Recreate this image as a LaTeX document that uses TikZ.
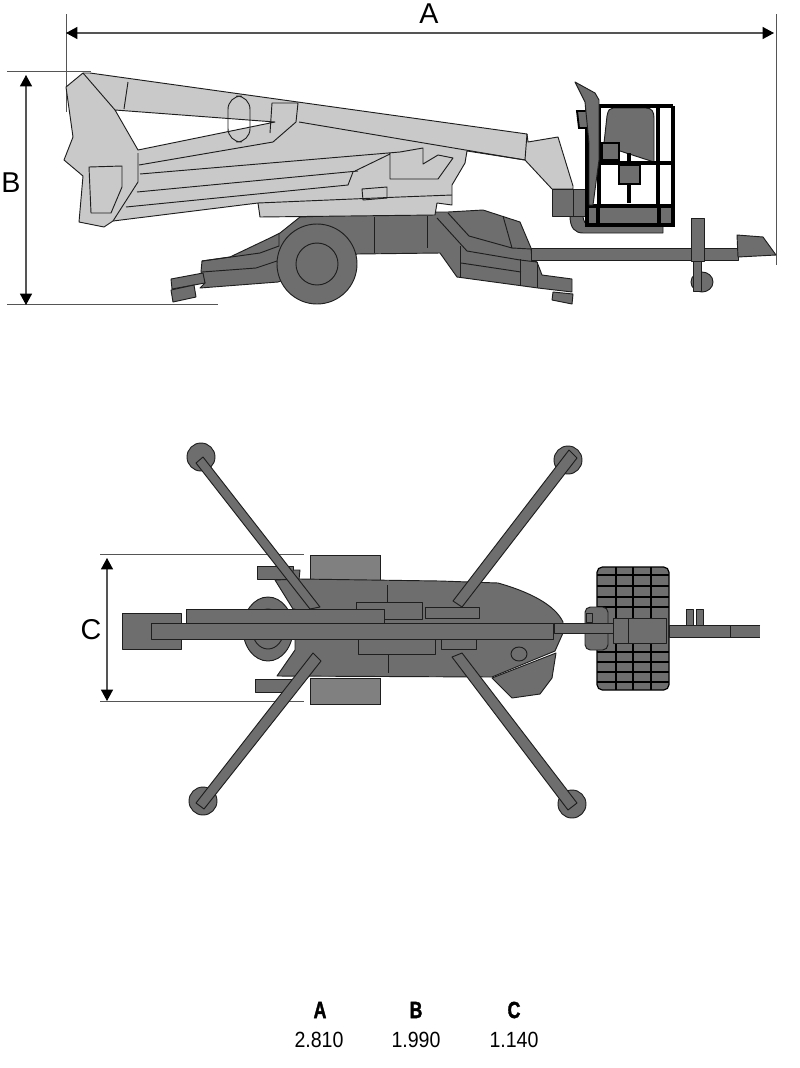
\documentclass[tikz,border=0pt]{standalone}
\usepackage{fontspec}
\setmainfont{Liberation Sans}
\newfontfamily\headfont[BoldFeatures={FakeBold=2}]{Liberation Sans}
\usetikzlibrary{arrows.meta}
\definecolor{boomgray}{HTML}{C9C9C9}
\definecolor{basegray}{HTML}{6E6E6E}
\definecolor{boxgray}{HTML}{808080}
\definecolor{dimgray}{HTML}{555555}
\definecolor{edgegray}{HTML}{1E1E1E}
\tikzset{
  boompart/.style={fill=boomgray,draw=edgegray,line width=.7pt,line join=round},
  basepart/.style={fill=basegray,draw=edgegray,line width=.7pt,line join=round},
  boxpart/.style={fill=boxgray,draw=edgegray,line width=.6pt},
  seam/.style={draw=edgegray,line width=.7pt,line join=round},
  rail/.style={draw=black,line width=2.5pt},
  tyreline/.style={draw=black,line width=1.3pt},
  extline/.style={draw=dimgray,line width=.7pt},
  dimline/.style={draw=dimgray,line width=.8pt,{Triangle[width=9pt,length=8.5pt,black]}-{Triangle[width=9pt,length=8.5pt,black]}},
  dimtext/.style={font=\fontsize{21.5}{24}\selectfont,inner sep=0pt},
  headtext/.style={font=\headfont\fontsize{17.5}{20}\selectfont\bfseries,inner sep=0pt,xscale=.76,transform shape},
  valtext/.style={font=\fontsize{16.5}{18}\selectfont,inner sep=0pt,xscale=.89,transform shape}
}
\begin{document}
\begin{tikzpicture}[x=0.75pt,y=-0.75pt]
  \useasboundingbox (0,0) rectangle (800,1068);

  \coordinate (extAl) at (66,14);
  \coordinate (extAle) at (66,112);
  \coordinate (extAr) at (776,14);
  \coordinate (extAre) at (776,265);
  \coordinate (dimAl) at (66,33);
  \coordinate (dimAr) at (774,33);
  \coordinate (extBt) at (7,71);
  \coordinate (extBte) at (91,71);
  \coordinate (extBb) at (7,304);
  \coordinate (extBbe) at (218,304);
  \coordinate (dimBt) at (26,75);
  \coordinate (dimBb) at (26,305);
  \coordinate (extCt) at (100,554);
  \coordinate (extCte) at (304,554);
  \coordinate (extCb) at (100,701);
  \coordinate (extCbe) at (304,701);
  \coordinate (dimCt) at (107,558);
  \coordinate (dimCb) at (107,701);
  \draw[extline] (extAl) -- (extAle);
  \draw[extline] (extAr) -- (extAre);
  \draw[extline] (extBt) -- (extBte);
  \draw[extline] (extBb) -- (extBbe);
  \draw[extline] (extCt) -- (extCte);
  \draw[extline] (extCb) -- (extCbe);
  \draw[dimline] (dimAl) -- (dimAr);
  \draw[dimline] (dimBt) -- (dimBb);
  \draw[dimline] (dimCt) -- (dimCb);
  \node[dimtext] (labA) at (429,14) {A};
  \node[dimtext] (labB) at (11,183) {B};
  \node[dimtext] (labC) at (91,630) {C};

  \draw[basepart] (300,217) -- (437,212) -- (448,212) -- (483,210) -- (520,222) -- (531,248) -- (532,260) -- (537,262) -- (542,275) -- (572,279) -- (572,292) -- (538,288) -- (457,277) -- (440,253) -- (357,254) -- (278,282) -- (200,288) -- (205,283) -- (201,272) -- (202,261) -- (230,257) -- (272,237) -- (280,233) -- cycle;
  \draw[seam] (202,261) -- (260,253) -- (279,246) -- (279,233);
  \draw[seam] (202,272) -- (256,268) -- (277,261);
  \draw[seam] (374,217) -- (374,253);
  \draw[seam] (427,216) -- (427,248);
  \draw[seam] (448,213) -- (469,236) -- (512,248) -- (503,216);
  \draw[seam] (512,248) -- (531,249);
  \draw[seam] (437,218) -- (467,251) -- (520,260) -- (537,262);
  \draw[seam] (460,246) -- (460,277);
  \draw[seam] (461,263) -- (521,272);
  \draw[seam] (520,259) -- (520,285);
  \draw[seam] (537,262) -- (537,288);
  \draw[basepart] (171,279) -- (203,273) -- (205,283) -- (172,289) -- cycle;
  \draw[basepart] (171,290) -- (194,285) -- (196,297) -- (173,302) -- cycle;
  \draw[basepart] (553,292) -- (573,294) -- (572,304) -- (552,300) -- cycle;
  \draw[basepart] (317,264) circle (40);
  \draw[seam] (317,264) circle (21);

  \draw[basepart] (702,282) ellipse (11 and 10);
  \draw[basepart] (693,261) rectangle (701,291);
  \draw[basepart] (531,248) rectangle (738,260);
  \draw[basepart] (691,218) rectangle (704,261);
  \draw[basepart] (737,235) -- (763,237) -- (776,255) -- (738,257) -- cycle;

  \draw[boompart] (83,73) -- (90,73) -- (527,134) -- (528,142) -- (558,137) -- (573,186) -- (573,189) -- (552,189) -- (525,160) -- (467,151) -- (465,163) -- (452,185) -- (452,205) -- (437,203) -- (435,215) -- (260,217) -- (258,203) -- (113,221) -- (104,227) -- (79,222) -- (83,176) -- (64,160) -- (73,137) -- (66,87) -- cycle;
  \draw[seam,fill=white] (115,110) -- (275,122) -- (138,150) -- cycle;
  \draw[seam] (83,73) -- (115,110);
  \draw[seam] (128,82) -- (124,109);
  \draw[seam,rounded corners=10] (228,96) rectangle (250,142);
  \draw[seam] (270,133) -- (272,103) -- (298,103) -- (296,122) -- (273,142) -- (139,165);
  \draw[seam] (299,122) -- (525,160);
  \draw[seam] (527,134) -- (525,160);
  \draw[seam] (138,153) -- (138,182) -- (113,221);
  \draw[seam] (89,167) -- (122,166) -- (122,187) -- (111,213) -- (91,213) -- cycle;
  \draw[seam] (140,174) -- (400,152) -- (423,148) -- (423,164) -- (438,155) -- (453,158) -- (438,179) -- (390,179) -- (390,154) -- (355,171);
  \draw[seam] (137,192) -- (358,171);
  \draw[seam] (353,172) -- (348,185) -- (126,207);
  \draw[seam] (362,189) -- (387,187) -- (387,198) -- (363,200) -- cycle;
  \draw[seam] (258,203) -- (400,197) -- (452,195);

  \draw[basepart] (570,216) .. controls (570,228) and (575,233) .. (583,233) -- (663,233) -- (663,225) -- (590,225) .. controls (585,225) and (583,220) .. (583,216) -- cycle;
  \draw[basepart] (552,189) rectangle (585,216);
  \draw[seam] (573,189) -- (573,216);
  \draw[basepart] (604,143) -- (607,116) .. controls (608,110) and (610,108) .. (613,108) -- (646,108) .. controls (652,108) and (654,112) .. (654,118) -- (654,162) -- (620,151) -- cycle;
  \draw[fill=basegray,rail] (587,206) rectangle (673,225);
  \draw[rail] (598,206) -- (598,225);
  \draw[rail] (659,206) -- (659,225);
  \draw[rail] (587,106) -- (673,106);
  \draw[rail] (587,163) -- (673,163);
  \draw[rail] (587,106) -- (587,206);
  \draw[rail] (599,106) -- (599,206);
  \draw[rail] (658,106) -- (658,204);
  \draw[rail] (673,106) -- (673,204);
  \draw[rail] (629,153) -- (629,203);
  \draw[fill=basegray,draw=black,line width=2pt] (602,143) rectangle (619,160);
  \draw[fill=basegray,draw=black,line width=2pt] (619,165) rectangle (640,184);
  \draw[fill=basegray,draw=black,line width=1.4pt] (577,111) -- (589,111) -- (589,128) -- (579,128) -- cycle;
  \draw[basepart] (575,82) -- (595,93) -- (599,100) -- (599,160) -- (593,205) -- (589,205) -- (589,143) -- (585,102) -- cycle;

  \draw[boxpart] (310,555) rectangle (380,580);
  \draw[boxpart] (310,678) rectangle (380,704);
  \draw[basepart] (257,566) rectangle (293,579);
  \draw[basepart] (255,679) rectangle (292,692);
  \draw[basepart] (293,570) -- (300,570) -- (299,580) -- (293,580) -- cycle;
  \draw[basepart] (268,629) ellipse (25 and 32);
  \draw[seam] (268,629) ellipse (16 and 20);
  \draw[basepart] (275,580) -- (300,579) -- (440,581) -- (498,583) .. controls (530,592) and (555,605) .. (563,622) -- (563,633) -- (555,651) -- (492,677) -- (277,676) -- (295,650) -- (295,609) -- (293,609) -- cycle;
  \draw[basepart] (492,678) -- (512,698) -- (540,694) -- (552,678) -- (556,653) -- cycle;
  \draw[seam] (519,654) ellipse (8 and 7);
  \draw[seam] (387,585) -- (387,602);
  \draw[seam] (388,654) -- (388,673);
  \draw[basepart] (356,602) rectangle (422,619);
  \draw[basepart] (425,607) rectangle (479,618);
  \draw[basepart] (358,639) rectangle (435,654);
  \draw[basepart] (441,639) rectangle (476,649);
  \draw[basepart] (122,613) rectangle (181,649);
  \draw[basepart] (186,609) rectangle (384,623);
  \draw[basepart] (151,623) rectangle (553,639);

  \draw[basepart] (201,457) circle (14);
  \draw[basepart] (568,460) circle (14);
  \draw[basepart] (203,801) circle (14);
  \draw[basepart] (572,804) circle (14);
  \draw[basepart] (196,463) -- (203,457) -- (320,607) -- (310,609) -- cycle;
  \draw[basepart] (569,450) -- (577,458) -- (462,607) -- (453,601) -- cycle;
  \draw[basepart] (196,803) -- (204,809) -- (321,661) -- (313,653) -- cycle;
  \draw[basepart] (577,803) -- (568,810) -- (452,657) -- (462,653) -- cycle;

  \draw[fill=basegray,draw=black,line width=.9pt,rounded corners=4] (597,567) rectangle (669,690);
  \foreach \xval in {616,633,651}
    \draw[tyreline] (\xval,567) -- (\xval,690);
  \foreach \yval in {575,586,597,607,652,662,672,682}
    \draw[tyreline] (597,\yval) -- (669,\yval);
  \draw[basepart,rounded corners=4] (585,607) rectangle (608,650);
  \draw[seam] (586,613) rectangle (592,622);
  \draw[basepart] (554,623) rectangle (614,633);
  \draw[basepart] (613,618) rectangle (666,643);
  \draw[seam] (628,618) -- (628,643);
  \draw[basepart] (686,609) rectangle (693,625);
  \draw[basepart] (696,609) rectangle (703,625);
  \draw[fill=basegray,draw=none] (669,625) rectangle (760,637);
  \draw[seam] (760,625) -- (669,625) -- (669,637) -- (760,637);
  \draw[seam] (730,625) -- (730,637);

  \node[headtext] (headA) at (320,1010) {A};
  \node[headtext] (headB) at (416,1010) {B};
  \node[headtext] (headC) at (514,1010) {C};
  \node[valtext] (valA) at (319,1040) {2.810};
  \node[valtext] (valB) at (416,1040) {1.990};
  \node[valtext] (valC) at (514,1040) {1.140};
\end{tikzpicture}
\end{document}
